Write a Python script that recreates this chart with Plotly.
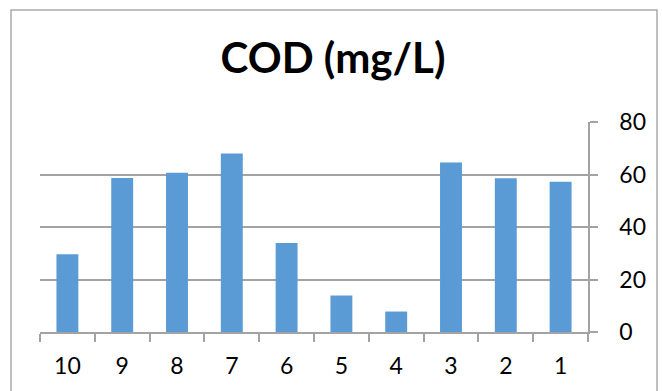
import plotly.graph_objects as go

# Sample points, ordered as shown on the category axis
samples = ["10", "9", "8", "7", "6", "5", "4", "3", "2", "1"]
cod_values = [29.6, 58.7, 60.7, 68.0, 33.9, 13.9, 7.8, 64.6, 58.6, 57.2]
y_ticks = [0, 20, 40, 60, 80]

W, H = 662, 391
L, R, T, B = 40, 74, 122, 59
plot_w = W - L - R
plot_h = H - T - B

GRAY = "#a3a3a3"
BORDER = "#ababab"
BAR = "#5B9BD5"
FONT = "Lato, 'Open Sans', sans-serif"

fig = go.Figure(
    go.Bar(
        x=samples,
        y=cod_values,
        marker=dict(color=BAR, line=dict(width=0)),
    )
)

# Outer chart frame, expressed in paper units relative to the plot area
def px_to_paper_x(px):
    return (px - L) / plot_w

def px_to_paper_y(py):
    return (H - B - py) / plot_h

fig.add_shape(
    type="rect",
    xref="paper", yref="paper",
    x0=px_to_paper_x(11), x1=px_to_paper_x(657),
    y0=px_to_paper_y(400), y1=px_to_paper_y(10),
    line=dict(color=BORDER, width=1.5),
    fillcolor="rgba(0,0,0,0)",
    layer="below",
)

fig.update_layout(
    width=W, height=H,
    margin=dict(l=L, r=R, t=T, b=B),
    paper_bgcolor="white",
    plot_bgcolor="white",
    bargap=0.6,
    showlegend=False,
    font=dict(family=FONT, size=23, color="black"),
    title=dict(
        text="<b>COD (mg/L)</b>",
        font=dict(family=FONT, size=42, color="black"),
        x=333 / W, xref="container", xanchor="center",
        y=1 - 58 / H, yref="container", yanchor="middle",
    ),
    xaxis=dict(
        type="category",
        categoryorder="array",
        categoryarray=samples,
        showline=True, linecolor=GRAY, linewidth=1.5,
        ticks="outside", tickson="boundaries", ticklen=8,
        tickcolor=GRAY, tickwidth=1.5,
        showgrid=False,
        tickfont=dict(family=FONT, size=23, color="black"),
        ticklabelstandoff=13,
    ),
    yaxis=dict(
        side="right",
        range=[0, 80],
        tickvals=y_ticks,
        showline=True, linecolor=GRAY, linewidth=1.5,
        ticks="outside", ticklen=8, tickcolor=GRAY, tickwidth=1.5,
        showgrid=True, gridcolor=GRAY, gridwidth=1.5,
        zeroline=False,
        tickfont=dict(family=FONT, size=23, color="black"),
        ticklabelstandoff=17,
    ),
)

fig.write_html("out.html")
